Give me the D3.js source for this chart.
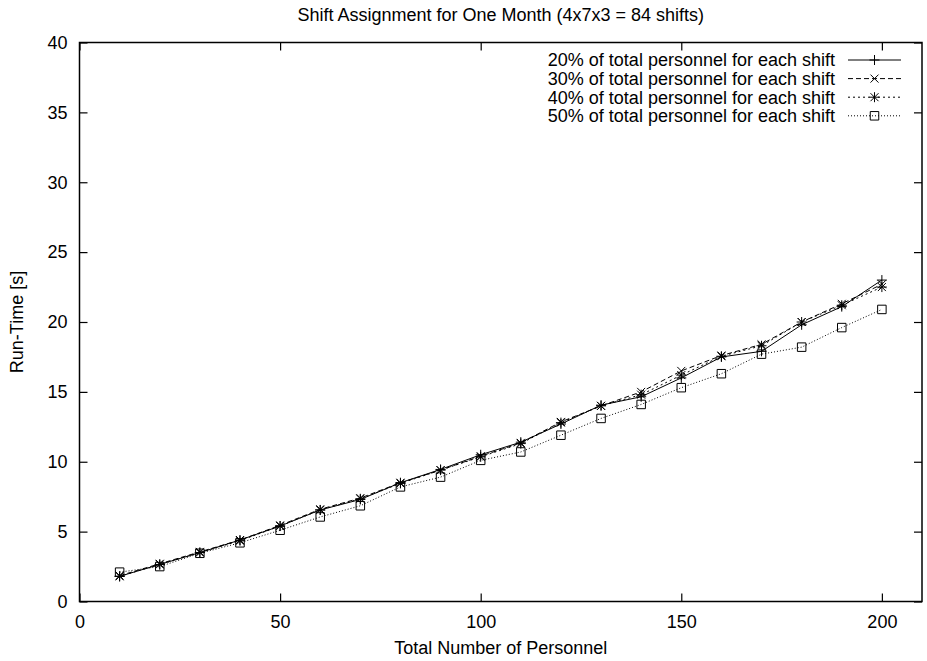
<!DOCTYPE html>
<html>
<head>
<meta charset="utf-8">
<script src="https://cdn.jsdelivr.net/npm/d3@7"></script>
<style>
  body { margin: 0; background: #fff; }
  svg { display: block; font-family: "Liberation Sans", Arial, sans-serif; }
</style>
</head>
<body>
<svg id="chart" width="927" height="661"></svg>
<script>
// === data === //
var personnel = [10, 20, 30, 40, 50, 60, 70, 80, 90, 100, 110, 120, 130, 140, 150, 160, 170, 180, 190, 200]
var run20 = [1.8, 2.65, 3.5, 4.4, 5.4, 6.55, 7.3, 8.5, 9.45, 10.5, 11.4, 12.7, 14.05, 14.65, 16.0, 17.5, 17.9, 19.8, 21.1, 23.0]
var run30 = [1.85, 2.7, 3.55, 4.4, 5.45, 6.6, 7.4, 8.5, 9.4, 10.4, 11.35, 12.85, 14.0, 15.0, 16.5, 17.6, 18.4, 20.0, 21.3, 22.7]
var run40 = [1.8, 2.65, 3.5, 4.35, 5.4, 6.55, 7.35, 8.45, 9.4, 10.35, 11.3, 12.8, 14.0, 14.8, 16.2, 17.55, 18.3, 20.0, 21.2, 22.5]
var run50 = [2.1, 2.5, 3.45, 4.2, 5.1, 6.05, 6.85, 8.2, 8.9, 10.1, 10.7, 11.9, 13.1, 14.1, 15.3, 16.3, 17.7, 18.2, 19.6, 20.9]
var seriesNames = ["20% of total personnel for each shift", "30% of total personnel for each shift",
  "40% of total personnel for each shift", "50% of total personnel for each shift"]
var xTicks = [0, 50, 100, 150, 200]
var yTicks = [0, 5, 10, 15, 20, 25, 30, 35, 40]

var title = "Shift Assignment for One Month (4x7x3 = 84 shifts)"
var xLabel = "Total Number of Personnel"
var yLabel = "Run-Time [s]"

// === layout === //
var plotLeft = 79.5, plotRight = 922, plotTop = 42.5, plotBottom = 601.5
var fontsize = 18
var tickLen = 8

var svg = d3.select("#chart")

var x = d3.scaleLinear().domain([0, 210]).range([plotLeft, plotRight])
var y = d3.scaleLinear().domain([0, 40]).range([plotBottom, plotTop])

// styles per series
var styles = [
  { data: run20, dash: null, marker: "plus" },
  { data: run30, dash: "5,3", marker: "cross" },
  { data: run40, dash: "2,3", marker: "star" },
  { data: run50, dash: "1,2", marker: "square" }
]

function markerPath(type, s) {
  var h = s / 2
  var c = h * 0.8
  if (type == "plus") return "M" + (-h) + ",0H" + h + "M0," + (-h) + "V" + h
  if (type == "cross") return "M" + (-c) + "," + (-c) + "L" + c + "," + c + "M" + (-c) + "," + c + "L" + c + "," + (-c)
  if (type == "star") return "M" + (-h) + ",0H" + h + "M0," + (-h) + "V" + h + "M" + (-c) + "," + (-c) + "L" + c + "," + c + "M" + (-c) + "," + c + "L" + c + "," + (-c)
  var q = h * 0.85
  return "M" + (-q) + "," + (-q) + "H" + q + "V" + q + "H" + (-q) + "Z"
}

// === axes (ticks inward on all four sides) === //
var gBottom = svg.append("g").attr("transform", "translate(0," + plotBottom + ")")
  .call(d3.axisBottom(x).tickValues(xTicks).tickSizeInner(-tickLen).tickSizeOuter(0).tickPadding(14))
var gTop = svg.append("g").attr("transform", "translate(0," + plotTop + ")")
  .call(d3.axisTop(x).tickValues(xTicks).tickSizeInner(-tickLen).tickSizeOuter(0).tickFormat(""))
var gLeft = svg.append("g").attr("transform", "translate(" + plotLeft + ",0)")
  .call(d3.axisLeft(y).tickValues(yTicks).tickSizeInner(-tickLen).tickSizeOuter(0).tickPadding(12))
var gRight = svg.append("g").attr("transform", "translate(" + plotRight + ",0)")
  .call(d3.axisRight(y).tickValues(yTicks).tickSizeInner(-tickLen).tickSizeOuter(0).tickFormat(""))

svg.selectAll(".domain").remove()
svg.selectAll(".tick line").attr("stroke", "#000").attr("stroke-width", 1.2)
svg.selectAll(".tick text").attr("font-size", fontsize).attr("fill", "#000")
  .attr("font-family", "'Liberation Sans', Arial, sans-serif")
gBottom.selectAll(".tick text").attr("dy", "0.71em")

svg.append("rect")
  .attr("x", plotLeft).attr("y", plotTop)
  .attr("width", plotRight - plotLeft).attr("height", plotBottom - plotTop)
  .attr("fill", "none").attr("stroke", "#000").attr("stroke-width", 1.5)

// === series === //
var line = d3.line()
  .x(function(d) { return x(d[0]) })
  .y(function(d) { return y(d[1]) })

styles.forEach(function(st) {
  var pts = personnel.map(function(p, i) { return [p, st.data[i]] })
  svg.append("path")
    .datum(pts)
    .attr("d", line)
    .attr("fill", "none")
    .attr("stroke", "#000")
    .attr("stroke-width", 1)
    .attr("stroke-dasharray", st.dash)

  svg.append("g").selectAll("path")
    .data(pts)
    .enter().append("path")
    .attr("transform", function(d) { return "translate(" + x(d[0]) + "," + y(d[1]) + ")" })
    .attr("d", markerPath(st.marker, 10))
    .attr("fill", "none")
    .attr("stroke", "#000")
    .attr("stroke-width", 1)
})

// === legend === //
var legendTextX = 835
var legendLineX1 = 848, legendLineX2 = 901
var legendY = 60, legendStep = 18.6

styles.forEach(function(st, i) {
  var ly = legendY + i * legendStep
  svg.append("text")
    .attr("x", legendTextX).attr("y", ly)
    .attr("dy", "0.35em")
    .attr("text-anchor", "end")
    .attr("font-size", fontsize)
    .text(seriesNames[i])
  svg.append("line")
    .attr("x1", legendLineX1).attr("x2", legendLineX2)
    .attr("y1", ly).attr("y2", ly)
    .attr("stroke", "#000").attr("stroke-width", 1)
    .attr("stroke-dasharray", st.dash)
  svg.append("path")
    .attr("transform", "translate(" + ((legendLineX1 + legendLineX2) / 2) + "," + ly + ")")
    .attr("d", markerPath(st.marker, 10))
    .attr("fill", "none").attr("stroke", "#000").attr("stroke-width", 1)
})

// === titles === //
svg.append("text")
  .attr("x", (plotLeft + plotRight) / 2).attr("y", 21)
  .attr("text-anchor", "middle")
  .attr("font-size", fontsize)
  .text(title)

svg.append("text")
  .attr("x", (plotLeft + plotRight) / 2).attr("y", 654)
  .attr("text-anchor", "middle")
  .attr("font-size", fontsize)
  .text(xLabel)

svg.append("text")
  .attr("transform", "translate(23," + ((plotTop + plotBottom) / 2) + ") rotate(-90)")
  .attr("text-anchor", "middle")
  .attr("font-size", fontsize)
  .text(yLabel)
</script>
</body>
</html>
